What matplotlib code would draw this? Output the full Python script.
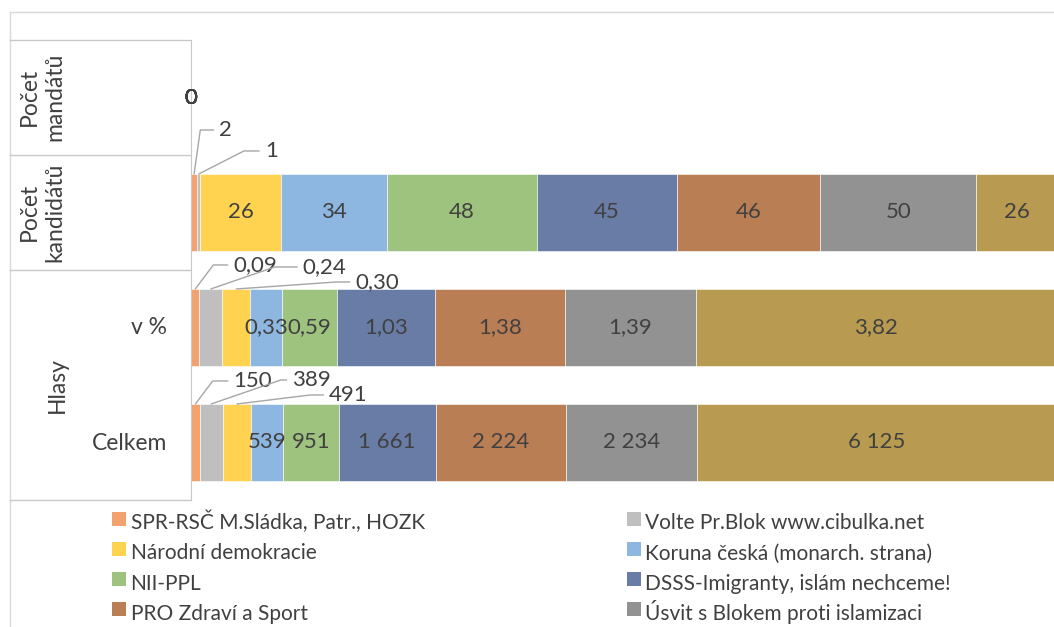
import numpy as np
import matplotlib.pyplot as plt
from matplotlib.lines import Line2D

plt.rcParams['font.family'] = ['Lato', 'DejaVu Sans']

# parties, in stacking order (the last one is cut off at the right edge)
parties = ["SPR-RSČ M.Sládka, Patr., HOZK", "Volte Pr.Blok www.cibulka.net",
           "Národní demokracie", "Koruna česká (monarch. strana)", "NII-PPL",
           "DSSS-Imigranty, islám nechceme!", "PRO Zdraví a Sport",
           "Úsvit s Blokem proti islamizaci", "další strana"]
colors = ["#F2A26E", "#BFBFBF", "#FFD24F", "#8DB7E1", "#9DC37E",
          "#687CA5", "#B97E54", "#929292", "#B89B50"]

# rows from bottom to top
rows = ["Celkem", "v %", "Počet kandidátů", "Počet mandátů"]
votes = [150, 389, 491, 539, 951, 1661, 2224, 2234, 6125]
votes_pct = [0.09, 0.24, 0.30, 0.33, 0.59, 1.03, 1.38, 1.39, 3.82]
candidates = [2, 1, 26, 34, 48, 45, 46, 50, 26]
mandates = [0, 0, 0, 0, 0, 0, 0, 0, 0]
# row totals over all parties (100 % stacked chart, only its left part is visible)
row_totals = [161200, 100.0, 3030, 65]

# labels placed outside with a leader line: (row, party) -> (dx px, dy px, line angle)
outside = {(2, 0): (25, 44, 82), (2, 1): (66, 23, 27),
           (1, 0): (38, 24, 53), (1, 1): (92, 22, 19), (1, 2): (119, 7, 4),
           (0, 0): (38, 23, 53), (0, 1): (81, 24, 19), (0, 2): (92, 9, 7)}

txt_col = "#404040"
fs = 16       # data labels
fs_cat = 16.5 # category labels
fs_leg = 15   # legend


def fmt(v, row):
    if row == 1:
        return f"{v:.2f}".replace(".", ",")
    return f"{v:,}".replace(",", " ")


W, H = 1054, 627
fig = plt.figure(figsize=(W / 100, H / 100), dpi=100)
ax = fig.add_axes([191 / W, (H - 500) / H, (W - 191) / W, 460 / H])

data = np.array([votes, votes_pct, candidates, mandates], dtype=float)
share = data / np.array(row_totals)[:, None] * 100
ypos = np.arange(len(rows))
left = np.zeros(len(rows))
bh = 0.67
for j, name in enumerate(parties):
    ax.barh(ypos, share[:, j], left=left, height=bh, color=colors[j],
            edgecolor="white", linewidth=0.4, label=name)
    for i in ypos:
        xc = left[i] + share[i, j] / 2
        s = fmt(data[i, j] if i == 1 else int(data[i, j]), i)
        if (i, j) in outside:
            dx, dy, ang = outside[(i, j)]
            ax.annotate(s, xy=(xc, i + bh / 2), xytext=(dx, dy), textcoords="offset pixels",
                        ha="left", va="center", fontsize=fs, color=txt_col,
                        arrowprops=dict(arrowstyle="-", color="#A6A6A6", lw=1,
                                        connectionstyle=f"angle,angleA=0,angleB={ang},rad=0",
                                        relpos=(0, 0.5), shrinkA=2, shrinkB=0))
        else:
            ax.text(xc, i, s, ha="center", va="center", fontsize=fs, color=txt_col)
    left += share[:, j]

ax.set_xlim(0, (W - 191) / 94.4)
ax.set_ylim(-0.5, 3.5)
ax.set_xticks([])
ax.set_yticks([])
for sp in ["top", "right", "bottom"]:
    ax.spines[sp].set_visible(False)
ax.spines["left"].set_color("#C8C8C8")

# chart border and category table
def hline(y, x0, x1, c):
    fig.add_artist(Line2D([x0 / W, x1 / W], [1 - y / H, 1 - y / H], color=c, lw=1))

def vline(x, y0, y1, c):
    fig.add_artist(Line2D([x / W, x / W], [1 - y0 / H, 1 - y1 / H], color=c, lw=1))

hline(12, 10, W, "#D9D9D9")
vline(10, 12, H, "#D9D9D9")
for y in [40, 155, 270, 500]:
    hline(y, 10, 190, "#C8C8C8")

fig.text(42 / W, 1 - 97 / H, "Počet\nmandátů", rotation=90, ha="center", va="center",
         multialignment="center", fontsize=fs_cat, color=txt_col, linespacing=1.25)
fig.text(42 / W, 1 - 212 / H, "Počet\nkandidátů", rotation=90, ha="center", va="center",
         multialignment="center", fontsize=fs_cat, color=txt_col, linespacing=1.25)
fig.text(57 / W, 1 - 385 / H, "Hlasy", rotation=90, ha="center", va="center",
         fontsize=fs_cat, color=txt_col)
fig.text(167 / W, 1 - 328 / H, rows[1], ha="right", va="center", fontsize=fs_cat, color=txt_col)
fig.text(167 / W, 1 - 443 / H, rows[0], ha="right", va="center", fontsize=fs_cat, color=txt_col)

# legend: two columns, row-wise order; the last party falls below the visible area
order = [0, 2, 4, 6, 1, 3, 5, 7]
handles = [Line2D([], [], marker="s", linestyle="none", markersize=9.4,
                  markerfacecolor=colors[k], markeredgewidth=0) for k in order]
fig.legend(handles, [parties[k] for k in order], ncol=2,
           loc="upper left", bbox_to_anchor=(112 / W, 1 - 508 / H), frameon=False,
           fontsize=fs_leg, labelcolor=txt_col, handlelength=0.65, handleheight=1.75,
           handletextpad=0.24, columnspacing=9.7, labelspacing=0.07,
           borderpad=0, borderaxespad=0)

fig.savefig("out.png", dpi=100)
